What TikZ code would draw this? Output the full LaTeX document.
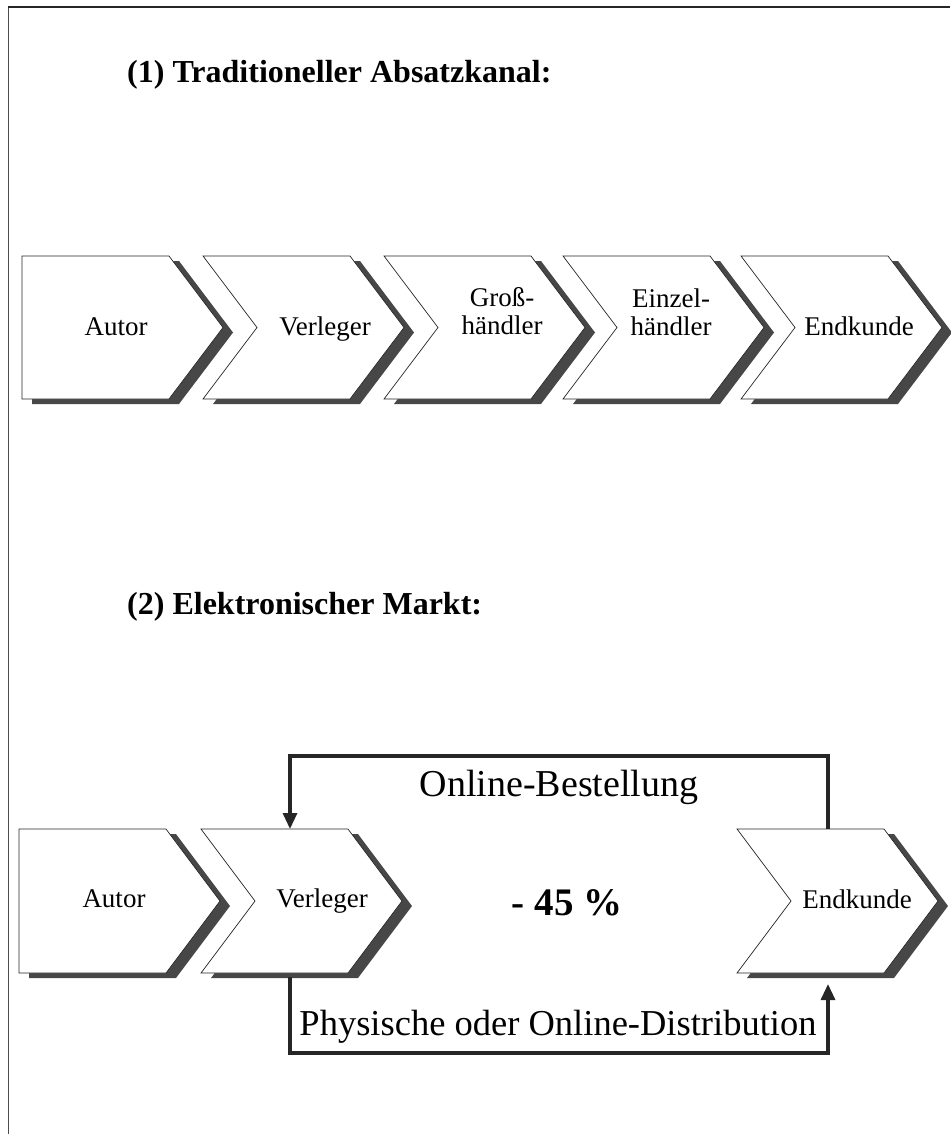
\documentclass[tikz,border=0pt]{standalone}
\usepackage{fontspec}
\setmainfont{Liberation Serif}
\usetikzlibrary{arrows.meta,calc}
\newcommand\chevN[4]{(#1,#2) -- (#1+147,#2) -- (#1+201,{(#2+#3)/2}) -- (#1+147,#3) -- (#1,#3) -- (#1+#4,{(#2+#3)/2}) -- cycle}
\tikzset{
  chev/.style={fill=white,draw=black!85,line width=0.7pt},
  chevshadow/.style={fill=black!72,draw=none,shift={(10,5)}},
  lbl/.style={font=\fontsize{27}{28}\selectfont, inner sep=0pt, anchor=base},
  head/.style={font=\bfseries\fontsize{32}{36}\selectfont, anchor=base west, inner sep=0pt},
  conn/.style={line width=3.2pt, draw=black!85},
  tipend/.style={-{Triangle[length=16pt,width=14pt]}},
}
\begin{document}
\begin{tikzpicture}[x=1pt,y=-1pt]
\useasboundingbox (0,0) rectangle (950,1134);
% frame
\draw[line width=1pt, black!70] (8,7) -- (8,1134);
\draw[line width=2pt, black!85] (8,7) -- (950,7);

% headings
\node[head] (h1) at (127,83) {(1) Traditioneller Absatzkanal:};
\node[head] (h2) at (127,614) {(2) Elektronischer Markt:};

% row 1 shadows
\foreach \l/\n in {22/0,203/54,384/54,563/54,741/54}{
  \fill[chevshadow] \chevN{\l}{256}{399}{\n};
}
% row 1 chevrons
\foreach \l/\n in {22/0,203/54,384/54,563/54,741/54}{
  \filldraw[chev] \chevN{\l}{256}{399}{\n};
}
\node[lbl] (a1) at (116,335) {Autor};
\node[lbl] (v1) at (325,335) {Verleger};
\node[lbl] (g1) at (502,306) {\begin{tabular}[t]{@{}c@{}}Groß-\\händler\end{tabular}};
\node[lbl] (z1) at (671,307) {\begin{tabular}[t]{@{}c@{}}Einzel-\\händler\end{tabular}};
\node[lbl] (k1) at (859,335) {Endkunde};

% row 2 shadows and chevrons
\foreach \l/\n in {19/0,201/54,737/54}{
  \fill[chevshadow] \chevN{\l}{829}{973}{\n};
}
\foreach \l/\n in {19/0,201/54,737/54}{
  \filldraw[chev] \chevN{\l}{829}{973}{\n};
}
\node[lbl] (a2) at (114,907) {Autor};
\node[lbl] (v2) at (322,907) {Verleger};
\node[lbl] (k2) at (857,908) {Endkunde};

% connectors
\coordinate (v2top) at (290,829);
\coordinate (v2bot) at (290,977);
\coordinate (e2top) at (828,829);
\coordinate (e2bot) at (828,984);
\draw[conn,tipend] (e2top) -- ++(0,-73) -| (v2top);
\draw[conn,tipend] (v2bot) -- ++(0,76) -| (e2bot);

\node[font=\fontsize{38}{40}\selectfont, anchor=base, inner sep=0pt] (ob) at (559,796) {Online-Bestellung};
\node[font=\fontsize{36.5}{40}\selectfont, anchor=base, inner sep=0pt] (pd) at (558,1035) {Physische oder Online-Distribution};
\node[font=\bfseries\fontsize{39}{44}\selectfont, anchor=base, inner sep=0pt] (pc) at (567,915) {- 45 \%};
\end{tikzpicture}
\end{document}
